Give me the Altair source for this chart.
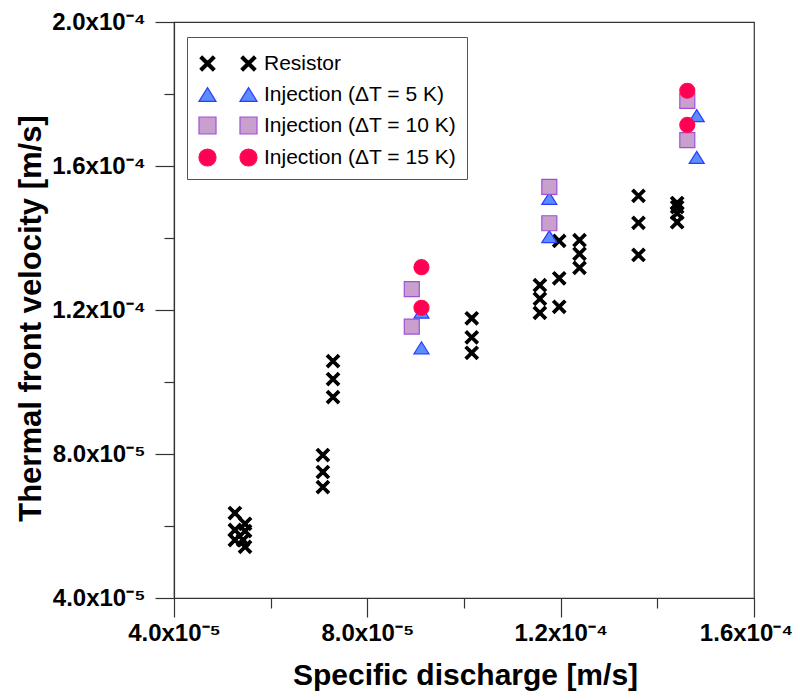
import altair as alt
import pandas as pd

# ---- data ----
series_names = [
    "Resistor",
    "Injection (ΔT = 5 K)",
    "Injection (ΔT = 10 K)",
    "Injection (ΔT = 15 K)",
]

resistor_x = [5.26e-5, 5.47e-5, 5.26e-5, 5.47e-5, 5.26e-5, 5.43e-5, 5.47e-5,
              7.29e-5, 7.29e-5, 7.29e-5, 7.08e-5, 7.08e-5, 7.08e-5,
              1.016e-4, 1.016e-4, 1.016e-4,
              1.157e-4, 1.157e-4, 1.157e-4, 1.197e-4, 1.197e-4, 1.197e-4,
              1.239e-4, 1.239e-4, 1.239e-4,
              1.361e-4, 1.361e-4, 1.361e-4,
              1.441e-4, 1.441e-4, 1.441e-4, 1.441e-4]
resistor_y = [6.36e-5, 6.06e-5, 5.89e-5, 5.86e-5, 5.61e-5, 5.61e-5, 5.42e-5,
              1.058e-4, 1.008e-4, 9.58e-5, 7.97e-5, 7.50e-5, 7.08e-5,
              1.177e-4, 1.124e-4, 1.081e-4,
              1.269e-4, 1.231e-4, 1.192e-4, 1.392e-4, 1.288e-4, 1.209e-4,
              1.394e-4, 1.356e-4, 1.317e-4,
              1.517e-4, 1.442e-4, 1.353e-4,
              1.497e-4, 1.486e-4, 1.469e-4, 1.444e-4]

dT5_x = [9.12e-5, 9.12e-5, 1.1765e-4, 1.1765e-4, 1.4815e-4, 1.4815e-4]
dT5_y = [1.194e-4, 1.095e-4, 1.510e-4, 1.404e-4, 1.740e-4, 1.624e-4]

dT10_x = [8.92e-5, 8.92e-5, 1.1765e-4, 1.1765e-4, 1.462e-4, 1.462e-4]
dT10_y = [1.258e-4, 1.154e-4, 1.542e-4, 1.441e-4, 1.781e-4, 1.672e-4]

dT15_x = [9.12e-5, 9.12e-5, 1.462e-4, 1.462e-4]
dT15_y = [1.319e-4, 1.206e-4, 1.809e-4, 1.714e-4]

x_ticks = [4e-5, 6e-5, 8e-5, 1.0e-4, 1.2e-4, 1.4e-4, 1.6e-4]
y_ticks = [4e-5, 6e-5, 8e-5, 1.0e-4, 1.2e-4, 1.4e-4, 1.6e-4, 1.8e-4, 2.0e-4]

rows = []
for name, xs, ys in zip(series_names,
                        [resistor_x, dT5_x, dT10_x, dT15_x],
                        [resistor_y, dT5_y, dT10_y, dT15_y]):
    rows += [{"series": name, "q": xv, "v": yv} for xv, yv in zip(xs, ys)]
df = pd.DataFrame(rows)

# ---- styling ----
X_PATH = ("M0,-0.24L0.63,-0.87L0.87,-0.63L0.24,0L0.87,0.63L0.63,0.87L0,0.24"
          "L-0.63,0.87L-0.87,0.63L-0.24,0L-0.87,-0.63L-0.63,-0.87Z")
TRI_PATH = "M0,-0.8L1,0.8L-1,0.8Z"
SQ_PATH = "M-1,-1L1,-1L1,1L-1,1Z"
CIRC_PATH = "M1,0A1,1,0,1,1,-1,0A1,1,0,1,1,1,0Z"
shape_range = [X_PATH, TRI_PATH, SQ_PATH, CIRC_PATH]
fill_range = ["#000000", "#5c8dff", "#c9a0cd", "#ff0055"]
stroke_range = ["#000000", "#2a3cff", "#a050d8", "#ff1050"]

FONT = "Liberation Sans"
major_test = "round(datum.value*1e5) % 4 == 0"
label_expr = ("round(datum.value*1e5) % 4 != 0 ? '' : "
              "(datum.value >= 1e-4 ? format(datum.value*1e4, '.1f') + 'x10⁻⁴' "
              ": format(datum.value*1e5, '.1f') + 'x10⁻⁵')")
tick_size = {"condition": {"test": major_test, "value": 19}, "value": 10}
last_x_shift = {"condition": {"test": "datum.value > 1.5e-4", "value": -8}, "value": 0}

x_axis = alt.Axis(values=x_ticks, labelExpr=label_expr, tickSize=tick_size,
                  labelOffset=last_x_shift,
                  labelOverlap=False, labelFlush=False, grid=False,
                  labelFont=FONT, labelFontSize=24, labelFontWeight="bold",
                  labelColor="#000", labelPadding=4,
                  title="Specific discharge [m/s]", titleFont=FONT,
                  titleFontSize=30, titleFontWeight="bold", titleColor="#000",
                  titleBaseline="middle", titleAlign="center",
                  titleX=291, titleY=77)
y_axis = alt.Axis(values=y_ticks, labelExpr=label_expr, tickSize=tick_size,
                  labelOverlap=False, labelFlush=False, grid=False,
                  labelFont=FONT, labelFontSize=24, labelFontWeight="bold",
                  labelColor="#000", labelPadding=10,
                  title="Thermal front velocity [m/s]", titleFont=FONT,
                  titleFontSize=31, titleFontWeight="bold", titleColor="#000",
                  titleBaseline="middle", titleAlign="center", titleAngle=270,
                  titleX=-143, titleY=296)

x_enc = alt.X("q:Q", scale=alt.Scale(domain=[4e-5, 1.6e-4], nice=False, zero=False), axis=x_axis)
y_enc = alt.Y("v:Q", scale=alt.Scale(domain=[4e-5, 2e-4], nice=False, zero=False), axis=y_axis)

common_legend = dict(orient="none", legendY=15, title=" ", titleFontSize=4,
                     titlePadding=2, labelFont=FONT, labelFontSize=21,
                     labelColor="#000", symbolSize=290, symbolStrokeWidth=1.2,
                     rowPadding=9, padding=10, labelLimit=400)

legend_main = alt.Legend(legendX=54, labelOffset=5, **common_legend)
legend_left = alt.Legend(legendX=13, labelOffset=46, labelOpacity=0,
                         strokeColor="#555555", **common_legend)


def enc_set(legend):
    return dict(
        shape=alt.Shape("series:N", scale=alt.Scale(domain=series_names, range=shape_range), legend=legend),
        fill=alt.Fill("series:N", scale=alt.Scale(domain=series_names, range=fill_range), legend=legend),
        stroke=alt.Stroke("series:N", scale=alt.Scale(domain=series_names, range=stroke_range), legend=legend),
    )


points = alt.Chart(df).mark_point(filled=True, opacity=1, size=225, strokeWidth=1.2).encode(
    x=x_enc, y=y_enc, **enc_set(legend_main)
)

legend_copy = alt.Chart(df).transform_filter("false").mark_point(
    filled=True, opacity=1, size=225, strokeWidth=1.2
).encode(**enc_set(legend_left))

chart = alt.layer(points, legend_copy).resolve_scale(
    shape="independent", fill="independent", stroke="independent"
).properties(
    width=580, height=576,
    autosize=alt.AutoSizeParams(type="none"),
    padding={"left": 166, "top": 14, "right": 38, "bottom": 94},
).configure_view(
    stroke="#333333", strokeWidth=1.2
).configure_axis(
    domainColor="#333333", tickColor="#333333", domainWidth=1.2, tickWidth=1.2
)

chart.save("out.html", embed_options={"renderer": "svg", "actions": False})
